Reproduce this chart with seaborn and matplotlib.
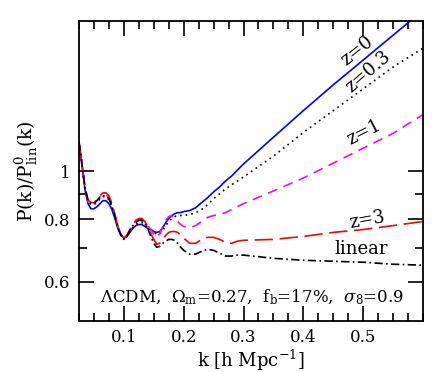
import numpy as np
import pandas as pd
import seaborn as sns
import matplotlib.pyplot as plt
from matplotlib.ticker import FixedLocator, NullFormatter, MultipleLocator

# wavenumber grid (h/Mpc)
k = [0.025, 0.03, 0.035, 0.04, 0.045, 0.05, 0.055, 0.06, 0.065, 0.07, 0.075, 0.08,
     0.085, 0.09, 0.095, 0.1, 0.105, 0.11, 0.115, 0.12, 0.125, 0.13, 0.135, 0.14,
     0.145, 0.15, 0.155, 0.16, 0.165, 0.17, 0.175, 0.18, 0.185, 0.19, 0.195, 0.2,
     0.21, 0.22, 0.23, 0.24, 0.25, 0.26, 0.27, 0.28, 0.29, 0.3, 0.35, 0.4, 0.45,
     0.5, 0.55, 0.6]

# P(k)/P_lin^0(k)
z0 = [1.142, 1.028, 0.917, 0.860, 0.840, 0.840, 0.848, 0.860, 0.872, 0.872, 0.860, 0.837,
      0.803, 0.767, 0.743, 0.733, 0.739, 0.753, 0.767, 0.777, 0.781, 0.781, 0.774, 0.767,
      0.763, 0.756, 0.753, 0.756, 0.770, 0.788, 0.803, 0.814, 0.821, 0.825, 0.825, 0.829,
      0.833, 0.844, 0.864, 0.884, 0.908, 0.929, 0.955, 0.977, 1.005, 1.033, 1.169, 1.322,
      1.489, 1.670, 1.873, 2.10]
z03 = [1.142, 1.028, 0.921, 0.868, 0.856, 0.856, 0.864, 0.880, 0.888, 0.888, 0.876, 0.848,
       0.810, 0.770, 0.746, 0.733, 0.739, 0.756, 0.770, 0.781, 0.788, 0.788, 0.781, 0.770,
       0.763, 0.753, 0.746, 0.749, 0.760, 0.777, 0.792, 0.803, 0.810, 0.814, 0.814, 0.814,
       0.818, 0.825, 0.837, 0.856, 0.880, 0.900, 0.921, 0.938, 0.955, 0.973, 1.071, 1.195,
       1.322, 1.462, 1.617, 1.764]
z1 = [1.142, 1.028, 0.921, 0.868, 0.860, 0.860, 0.872, 0.888, 0.896, 0.896, 0.884, 0.852,
      0.814, 0.774, 0.746, 0.733, 0.743, 0.760, 0.777, 0.792, 0.799, 0.799, 0.792, 0.777,
      0.763, 0.746, 0.736, 0.749, 0.774, 0.796, 0.810, 0.814, 0.807, 0.792, 0.781, 0.774,
      0.770, 0.777, 0.792, 0.807, 0.814, 0.818, 0.825, 0.837, 0.848, 0.860, 0.912, 0.968,
      1.037, 1.111, 1.190, 1.298]
z3 = [1.142, 1.033, 0.929, 0.876, 0.864, 0.864, 0.876, 0.892, 0.904, 0.904, 0.892, 0.860,
      0.818, 0.774, 0.746, 0.733, 0.743, 0.763, 0.781, 0.796, 0.803, 0.803, 0.792, 0.774,
      0.749, 0.729, 0.713, 0.716, 0.729, 0.743, 0.753, 0.756, 0.756, 0.753, 0.743, 0.733,
      0.716, 0.716, 0.729, 0.736, 0.736, 0.729, 0.719, 0.716, 0.723, 0.726, 0.729, 0.739,
      0.753, 0.763, 0.777, 0.792]
lin = [1.142, 1.033, 0.925, 0.872, 0.860, 0.860, 0.872, 0.884, 0.892, 0.892, 0.880, 0.852,
       0.810, 0.770, 0.743, 0.729, 0.739, 0.760, 0.777, 0.788, 0.796, 0.796, 0.785, 0.767,
       0.739, 0.716, 0.703, 0.706, 0.716, 0.723, 0.729, 0.729, 0.726, 0.716, 0.703, 0.693,
       0.681, 0.681, 0.690, 0.697, 0.693, 0.684, 0.675, 0.675, 0.678, 0.678, 0.668, 0.662,
       0.659, 0.656, 0.650, 0.647]

df = pd.DataFrame({'k': k, 'z=0': z0, 'z=0.3': z03, 'z=1': z1, 'z=3': z3, 'linear': lin})

sns.set_style('ticks')
plt.rcParams['font.family'] = ['DejaVu Serif']
plt.rcParams['mathtext.fontset'] = 'dejavuserif'
for key in ['text.color', 'axes.labelcolor', 'xtick.color', 'ytick.color', 'axes.edgecolor']:
    plt.rcParams[key] = 'black'

fig = plt.figure(figsize=(4.36, 3.72), dpi=100)
ax = fig.add_axes([0.1812, 0.1371, 0.7890, 0.8064])

# series style: (column, color, dashes)
styles = [('z=0', 'blue', None),
          ('z=0.3', 'black', (1, 2.4)),
          ('z=1', 'magenta', (6, 4)),
          ('z=3', 'red', (11, 4)),
          ('linear', 'black', (5, 2, 1, 2))]
for col, c, d in styles:
    sns.lineplot(data=df, x='k', y=col, ax=ax, color=c, linewidth=1.2)
    if d is not None:
        ax.lines[-1].set_dashes(d)

ax.set_yscale('log')
ax.set_xlim(0.025, 0.6)
ax.set_ylim(0.5, 2.0)

ax.xaxis.set_major_locator(FixedLocator([0.1, 0.2, 0.3, 0.4, 0.5]))
ax.xaxis.set_minor_locator(MultipleLocator(0.025))
ax.set_xticklabels(['0.1', '0.2', '0.3', '0.4', '0.5'])
ax.yaxis.set_major_locator(FixedLocator([0.6, 0.8, 1.0]))
ax.yaxis.set_minor_locator(FixedLocator([0.7, 0.9]))
ax.yaxis.set_minor_formatter(NullFormatter())
ax.set_yticklabels(['0.6', '0.8', '1'])

ax.tick_params(which='both', direction='in', top=True, right=True, labelsize=12)
ax.tick_params(which='major', length=11, width=1.2, pad=6)
ax.tick_params(which='minor', length=5.5, width=1.2)
for s in ax.spines.values():
    s.set_linewidth(1.3)

ax.set_xlabel(r'k [h Mpc$^{-1}$]', fontsize=13, labelpad=1)
ax.set_ylabel(r'P(k)/P$^{\rm 0}_{\rm lin}$(k)', fontsize=13.5, labelpad=3)

# curve labels
ax.text(0.4895, 1.74, 'z=0', rotation=39, ha='center', va='center', fontsize=13)
ax.text(0.508, 1.58, 'z=0.3', rotation=41, ha='center', va='center', fontsize=13)
ax.text(0.501, 1.195, 'z=1', rotation=27, ha='center', va='center', fontsize=13)
ax.text(0.506, 0.796, 'z=3', rotation=10, ha='center', va='center', fontsize=13)
ax.text(0.496, 0.697, 'linear', ha='center', va='center', fontsize=13)
ax.text(0.3135, 0.559,
        r'$\Lambda$CDM,  $\Omega_{\rm m}$=0.27,  f$_{\rm b}$=17%,  $\sigma_8$=0.9',
        ha='center', va='center', fontsize=12)

fig.savefig('out.png', dpi=100)
